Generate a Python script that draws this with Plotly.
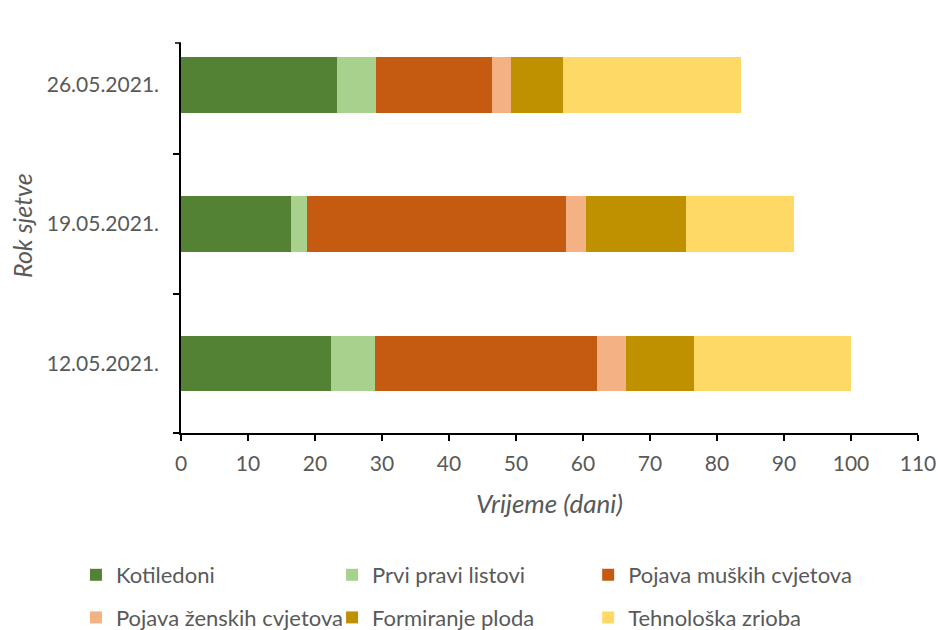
import plotly.graph_objects as go

categories = ["12.05.2021.", "19.05.2021.", "26.05.2021."]
series_names = ["Kotiledoni", "Prvi pravi listovi", "Pojava muških cvjetova",
                "Pojava ženskih cvjetova", "Formiranje ploda", "Tehnološka zrioba"]
kotiledoni = [22.4, 16.4, 23.3]
prvi_listovi = [6.5, 2.4, 5.8]
muski_cvjetovi = [33.2, 38.6, 17.3]
zenski_cvjetovi = [4.3, 3.1, 2.8]
formiranje_ploda = [10.2, 14.9, 7.8]
tehnoloska_zrioba = [23.4, 16.1, 26.6]
x_ticks = [0, 10, 20, 30, 40, 50, 60, 70, 80, 90, 100, 110]

series_values = [kotiledoni, prvi_listovi, muski_cvjetovi,
                 zenski_cvjetovi, formiranje_ploda, tehnoloska_zrioba]
colors = ["#548235", "#A9D18E", "#C55A11", "#F4B183", "#BF9000", "#FFD966"]

FONT = "Lato"
GRAY = "#595959"

# legend columns: series index -> legend id (3 columns, 2 rows)
legend_ids = ["legend", "legend2", "legend3", "legend", "legend2", "legend3"]

fig = go.Figure()
for i, (name, vals, col) in enumerate(zip(series_names, series_values, colors)):
    fig.add_trace(go.Bar(
        y=categories, x=vals, name=name, orientation="h",
        marker=dict(color=col, line=dict(width=0)),
        width=0.4,
        legend=legend_ids[i],
        legendgroup="g%d" % i,
    ))

W, H = 938, 630
PX0, PX1, PY0, PY1 = 181, 917.7, 43, 433
pw = PX1 - PX0
ph = PY1 - PY0
ml = PX0
mt = PY0
mr = W - ml - pw
mb = H - mt - ph

def px_x(px):
    return (px - PX0) / pw

def px_y(py):
    return (PY1 - py) / ph

def leg(xpx):
    return dict(
        orientation="v", xanchor="left", yanchor="middle",
        x=px_x(xpx), y=px_y(596.5),
        font=dict(family=FONT, size=22, color=GRAY),
        bgcolor="rgba(0,0,0,0)", traceorder="grouped",
        tracegroupgap=11,
    )

fig.update_layout(
    width=W, height=H,
    margin=dict(l=ml, r=mr, t=mt, b=mb, autoexpand=False),
    plot_bgcolor="white", paper_bgcolor="white",
    barmode="stack",
    font=dict(family=FONT, size=21, color=GRAY),
    legend=leg(76),
    legend2=leg(332),
    legend3=leg(588),
    xaxis=dict(
        range=[0, 110], tickvals=x_ticks, showgrid=False, zeroline=False,
        showline=True, linecolor="black", linewidth=1.5,
        ticks="outside", ticklen=6, tickwidth=1.5, tickcolor="black",
        tickfont=dict(family=FONT, size=21, color=GRAY),
        ticklabelstandoff=5,
    ),
    yaxis=dict(
        type="category", categoryorder="array", categoryarray=categories,
        range=[-0.5, 2.3], showgrid=False, zeroline=False,
        showline=True, linecolor="black", linewidth=1.5,
        ticks="outside", ticklen=6, tickwidth=1.5, tickcolor="black",
        tickson="boundaries",
        tickfont=dict(family=FONT, size=21, color=GRAY),
        ticklabelstandoff=16,
    ),
    annotations=[
        dict(text="Vrijeme (dani)", xref="paper", yref="paper",
             x=0.5, y=px_y(503), xanchor="center", yanchor="middle",
             showarrow=False, font=dict(family=FONT, size=26, color=GRAY, style="italic")),
        dict(text="Rok sjetve", xref="paper", yref="paper",
             x=px_x(22), y=px_y(225), xanchor="center", yanchor="middle",
             textangle=-90, showarrow=False,
             font=dict(family=FONT, size=25, color=GRAY, style="italic")),
    ],
    shapes=[
        dict(type="line", xref="paper", yref="paper",
             x0=-6 / pw, x1=0, y0=1, y1=1,
             line=dict(color="black", width=1.5)),
    ],
)

fig.write_html(
    "out.html",
    config={"displayModeBar": False},
    post_script="document.body.style.margin='0';document.body.style.overflow='hidden';",
)
